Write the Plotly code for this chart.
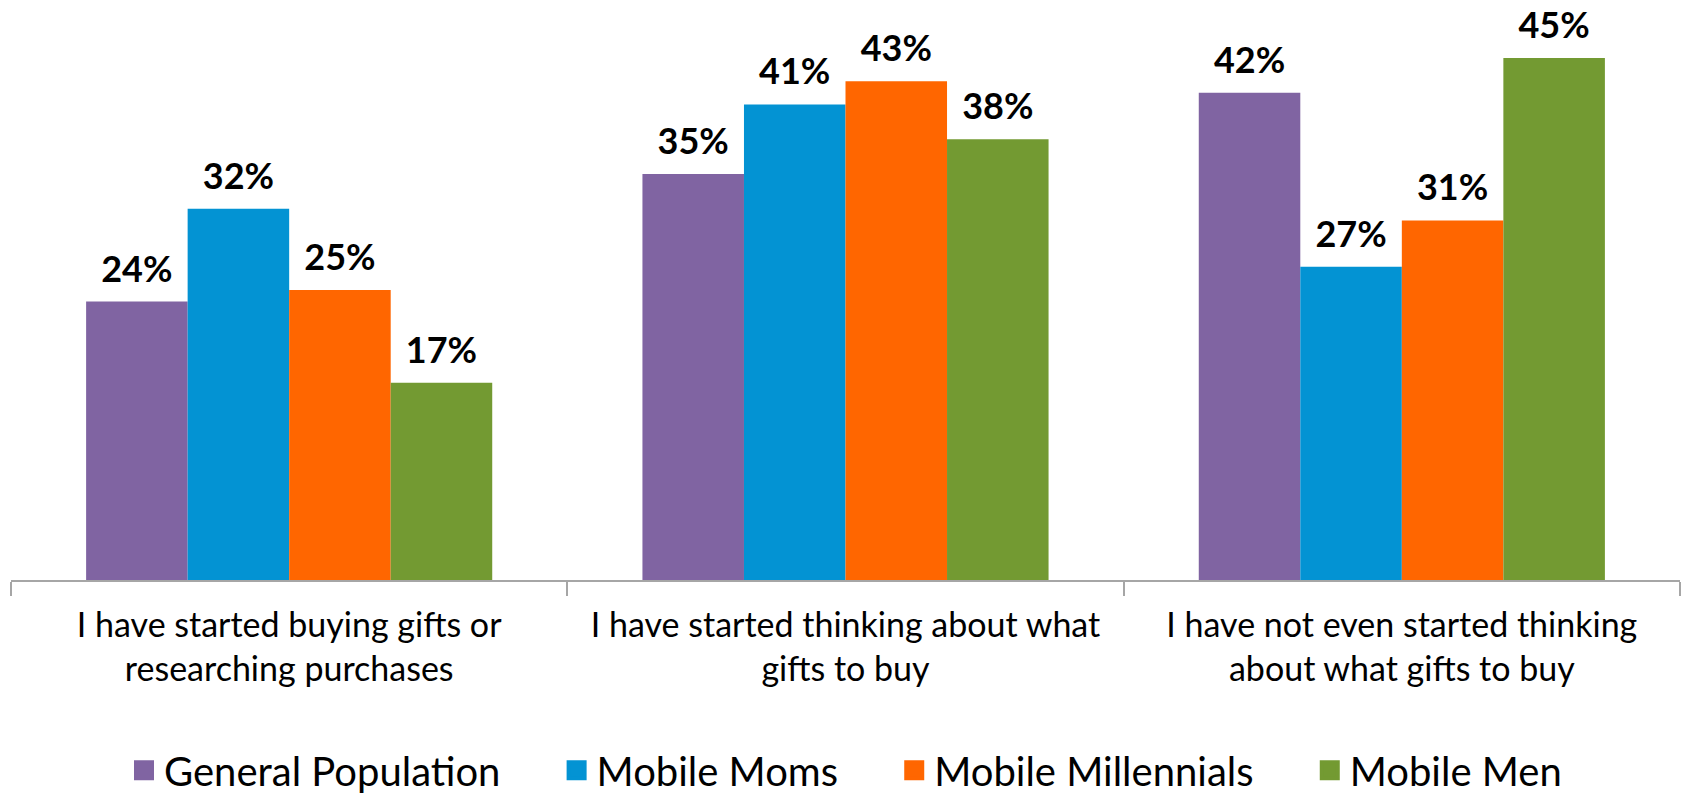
import plotly.graph_objects as go

categories = [
    "I have started buying gifts or<br>researching purchases",
    "I have started thinking about what<br>gifts to buy",
    "I have not even started thinking<br>about what gifts to buy",
]
series_names = ["General Population", "Mobile Moms", "Mobile Millennials", "Mobile Men"]
general_population = [24, 35, 42]
mobile_moms = [32, 41, 27]
mobile_millennials = [25, 43, 31]
mobile_men = [17, 38, 45]
colors = ["#8064A2", "#0393D3", "#FF6600", "#739A32"]

series_values = [general_population, mobile_moms, mobile_millennials, mobile_men]
FONT = "Lato"
LEGEND_PAD = "\u00a0" * 5

fig = go.Figure()

# bars
for name, vals, col in zip(series_names, series_values, colors):
    fig.add_trace(go.Bar(
        x=categories, y=vals, name=name, marker=dict(color=col, line=dict(width=0)),
        showlegend=False, hoverinfo="skip",
    ))

# value labels, grouped the same way as the bars
for name, vals in zip(series_names, series_values):
    fig.add_trace(go.Scatter(
        x=categories, y=vals, mode="markers+text",
        text=[f"<b>{v}%</b>" for v in vals], textposition="top center",
        textfont=dict(family=FONT, size=36, color="black"),
        marker=dict(size=16, opacity=0), showlegend=False, hoverinfo="skip",
        cliponaxis=False,
    ))

# legend entries with large square swatches
for i, (name, col) in enumerate(zip(series_names, colors)):
    fig.add_trace(go.Scatter(
        x=[None], y=[None], mode="markers",
        name=name + (LEGEND_PAD if i < len(series_names) - 1 else ""),
        marker=dict(symbol="square", size=16, color=col, line=dict(color=col, width=4)),
        xaxis="x2", yaxis="y2",
    ))

fig.update_layout(
    width=1685, height=796,
    margin=dict(l=11, r=5, t=0, b=216, autoexpand=False),
    paper_bgcolor="white", plot_bgcolor="white",
    barmode="group", bargap=0.27, bargroupgap=0,
    scattermode="group", scattergap=0.27,
    font=dict(family=FONT, color="black"),
    xaxis=dict(
        type="category", tickson="boundaries", ticks="outside", ticklen=14,
        tickwidth=2, tickcolor="#a6a6a6", showline=True, linecolor="#a6a6a6",
        linewidth=2, tickfont=dict(family=FONT, size=34, color="black"),
        ticklabelstandoff=14, automargin=False,
        showgrid=False, zeroline=False, fixedrange=True,
    ),
    yaxis=dict(range=[0, 50], visible=False, fixedrange=True, automargin=False),
    xaxis2=dict(visible=False, overlaying="x"),
    yaxis2=dict(visible=False, overlaying="y"),
    legend=dict(
        orientation="h", x=0.5, xanchor="center", y=-0.328, yanchor="middle",
        font=dict(family=FONT, size=40, color="black"),
        itemclick=False, itemdoubleclick=False,
    ),
)

fig.write_html("out.html")
